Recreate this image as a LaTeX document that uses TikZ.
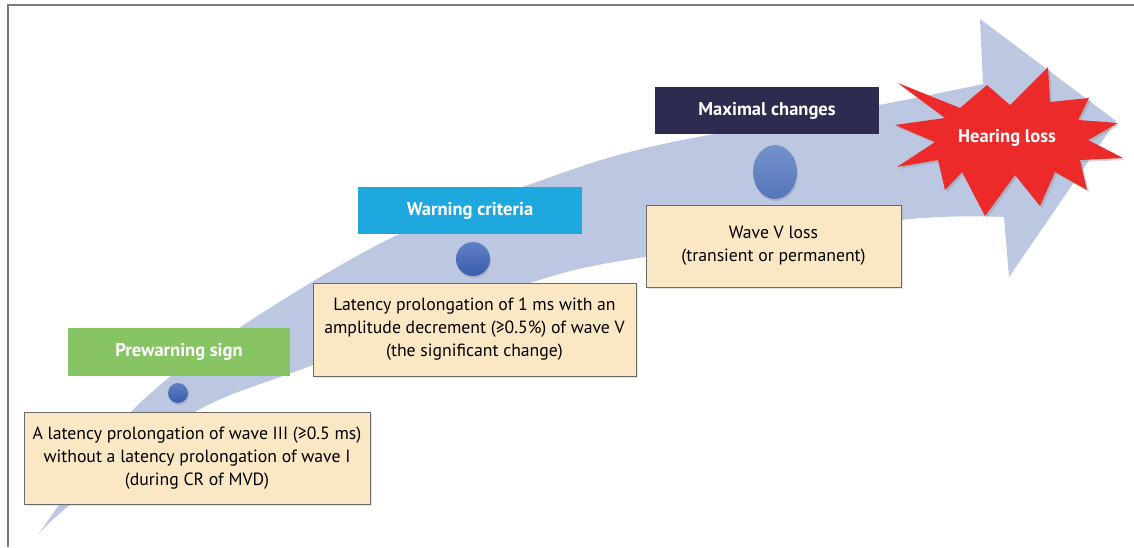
\documentclass[tikz,border=0pt]{standalone}
\usepackage{fontspec}
\setmainfont{PT Sans}
\usetikzlibrary{shadows,shapes.geometric}
\definecolor{bandc}{HTML}{BCC8E1}
\definecolor{greenc}{HTML}{87C564}
\definecolor{cyanc}{HTML}{1EA8DE}
\definecolor{navyc}{HTML}{2B2C50}
\definecolor{creamc}{HTML}{FAE7C4}
\definecolor{redc}{HTML}{EC2A2A}
\definecolor{framec}{HTML}{7A7A7A}
\definecolor{boxline}{HTML}{6A6A6A}
\definecolor{dottop}{HTML}{5F82C6}
\definecolor{dotbot}{HTML}{3A5CAA}
\definecolor{dot3top}{HTML}{7592CB}
\definecolor{dot3bot}{HTML}{5575B8}
\begin{document}
\begin{tikzpicture}[x=1pt,y=-1pt,
  labelbox/.style={rectangle, inner sep=0pt, text=white,
    font=\bfseries\fontsize{18.5}{21}\selectfont},
  infobox/.style={rectangle, draw=boxline, fill=creamc, line width=1pt,
    align=center, inner sep=0pt, font=\fontsize{17.7}{23}\selectfont,
    drop shadow={opacity=0.2,shadow xshift=1.5pt,shadow yshift=-1.5pt}},
  dotnode/.style={inner sep=0pt, top color=dottop, bottom color=dotbot,
    drop shadow={opacity=0.3,shadow xshift=1pt,shadow yshift=-2pt}}
]
\useasboundingbox (0,0) rectangle (1134,547);
\fill[white] (0,0) rectangle (1134,547);
% frame
\draw[framec, line width=1.6pt] (8,547) -- (8,5) -- (1134,5);
% band arrow
\fill[bandc] plot[smooth,tension=0.55] coordinates {(38,535) (130,413) (233,332) (387,240) (528,185) (654,146) (879,105) (983,84)}
  -- (980,19) -- (1116,121) -- (1009,277) -- (1004,217)
  -- plot[smooth,tension=0.55] coordinates {(1004,217) (900,220) (650,256) (530,283) (313,365) (193,413) (70,505) (38,535)} -- cycle;
% starburst
\fill[redc, drop shadow={opacity=0.3,shadow xshift=2pt,shadow yshift=-2pt}]
  (898,83) -- (960,108) -- (987,85) -- (1010,105) -- (1048,67) -- (1050,102)
  -- (1089,98) -- (1078,120) -- (1118,123) -- (1088,140) -- (1123,158) -- (1080,160)
  -- (1087,190) -- (1055,172) -- (1040,206) -- (1015,175) -- (985,216) -- (962,172)
  -- (945,190) -- (938,160) -- (897,167) -- (935,142) -- (895,125) -- (945,118) -- cycle;
\node[labelbox] (hl) at (1007,138) {Hearing loss};
% heading boxes
\node[labelbox, fill=greenc, minimum width=222pt, minimum height=48pt] (pw) at (179,352) {Prewarning sign};
\node[labelbox, fill=cyanc, minimum width=224pt, minimum height=47pt] (wc) at (470,210.5) {Warning criteria};
\node[labelbox, fill=navyc, minimum width=224pt, minimum height=47pt] (mc) at (767,110.5) {Maximal changes};
% dots
\node[dotnode, circle, minimum size=20pt] (d1) at (178,393) {};
\node[dotnode, circle, minimum size=34pt] (d2) at (473,259) {};
\node[dotnode, ellipse, minimum width=44pt, minimum height=54pt, top color=dot3top, bottom color=dot3bot] (d3) at (775,172) {};
% info boxes
\node[infobox, minimum width=346pt, minimum height=92pt] (b1) at (197,458)
  {A latency prolongation of wave III (≥0.5 ms)\\without a latency prolongation of wave I\\(during CR of MVD)};
\node[infobox, minimum width=323pt, minimum height=93pt] (b2) at (474.5,329.5)
  {Latency prolongation of 1 ms with an\\amplitude decrement (≥0.5\%) of wave V\\(the significant change)};
\node[infobox, minimum width=255pt, minimum height=82pt] (b3) at (773.5,246)
  {Wave V loss\\(transient or permanent)};
\end{tikzpicture}
\end{document}
